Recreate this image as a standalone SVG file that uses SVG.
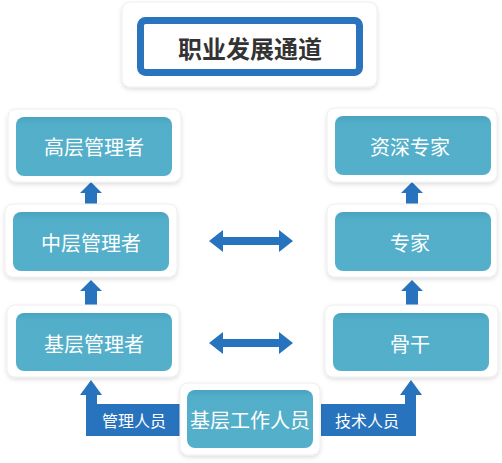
<svg xmlns="http://www.w3.org/2000/svg" width="502" height="463" viewBox="0 0 502 463">
<defs>
<filter id="sh" x="-10%" y="-10%" width="120%" height="130%">
<feDropShadow dx="0" dy="2" stdDeviation="2" flood-color="#000" flood-opacity="0.13"/>
</filter>
<linearGradient id="tg" x1="0" y1="0" x2="0" y2="1">
<stop offset="0" stop-color="#4aa3c0"/>
<stop offset="0.12" stop-color="#52aec9"/>
<stop offset="1" stop-color="#54b0ca"/>
</linearGradient>
<style>
.card{fill:#fff;stroke:#eeeeee;stroke-width:1;filter:url(#sh)}
.inner{fill:url(#tg)}
.lbl{font-family:"Noto Sans CJK SC","Noto Sans",sans-serif;font-size:20px;fill:#fff;text-anchor:middle;dominant-baseline:central}
.small{font-family:"Noto Sans CJK SC","Noto Sans",sans-serif;font-size:16px;fill:#fff;text-anchor:middle;dominant-baseline:central}
.arr{fill:#2873be}
</style>
</defs>
<rect width="502" height="463" fill="#fff"/>
<g id="connectors">
<polygon class="arr" points="91,182 102,193 97,193 97,205 85,205 85,193 80,193"/>
<polygon class="arr" points="91,280 102,291 97,291 97,306 85,306 85,291 80,291"/>
<polygon class="arr" points="412,182 423,193 418,193 418,205 406,205 406,193 401,193"/>
<polygon class="arr" points="412,280 423,291 418,291 418,306 406,306 406,291 401,291"/>
<polygon class="arr" points="209,241 223,230 223,237 279,237 279,230 293,241 279,252 279,245 223,245 223,252"/>
<polygon class="arr" points="209,343 223,332 223,339 279,339 279,332 293,343 279,354 279,347 223,347 223,354"/>
<g id="mgr-path">
<polygon class="arr" points="91,380 102,395 97,395 97,404 182,404 182,436 86,436 86,395 80,395"/>
<text class="small" x="134" y="420">管理人员</text>
</g>
<g id="tech-path">
<polygon class="arr" points="411,380 422,395 416,395 416,436 321,436 321,404 405,404 405,395 400,395"/>
<text class="small" x="367" y="420">技术人员</text>
</g>
</g>
<g id="title">
<rect class="card" x="122" y="2" width="255" height="85" rx="8"/>
<rect x="140.5" y="20.5" width="219" height="52" rx="5" fill="#fff" stroke="#2a74bd" stroke-width="7"/>
<text x="250" y="47" font-family="'Noto Sans CJK SC','Noto Sans',sans-serif" font-size="24" font-weight="bold" fill="#333" text-anchor="middle" dominant-baseline="central">职业发展通道</text>
</g>
<g id="senior-mgr">
<rect class="card" x="8" y="109" width="173" height="73" rx="8"/>
<rect class="inner" x="16" y="117" width="156" height="59" rx="8"/>
<text class="lbl" x="94" y="146">高层管理者</text>
</g>
<g id="middle-mgr">
<rect class="card" x="5" y="204" width="172" height="73" rx="8"/>
<rect class="inner" x="13" y="212" width="156" height="59" rx="8"/>
<text class="lbl" x="91" y="242">中层管理者</text>
</g>
<g id="base-mgr">
<rect class="card" x="7" y="305" width="172" height="72" rx="8"/>
<rect class="inner" x="16" y="313" width="156" height="58" rx="8"/>
<text class="lbl" x="94" y="343">基层管理者</text>
</g>
<g id="senior-expert">
<rect class="card" x="327" y="108" width="170" height="74" rx="8"/>
<rect class="inner" x="335" y="116" width="156" height="59" rx="8"/>
<text class="lbl" x="410" y="146">资深专家</text>
</g>
<g id="expert">
<rect class="card" x="327" y="204" width="170" height="73" rx="8"/>
<rect class="inner" x="335" y="212" width="156" height="59" rx="8"/>
<text class="lbl" x="410" y="242">专家</text>
</g>
<g id="backbone">
<rect class="card" x="325" y="305" width="173" height="72" rx="8"/>
<rect class="inner" x="333" y="313" width="156" height="58" rx="8"/>
<text class="lbl" x="410" y="343">骨干</text>
</g>
<g id="base-staff">
<rect class="card" x="180" y="383" width="140" height="72" rx="8"/>
<rect class="inner" x="187" y="390" width="126" height="58" rx="8"/>
<text class="lbl" x="250" y="419" font-size="19">基层工作人员</text>
</g>
</svg>
